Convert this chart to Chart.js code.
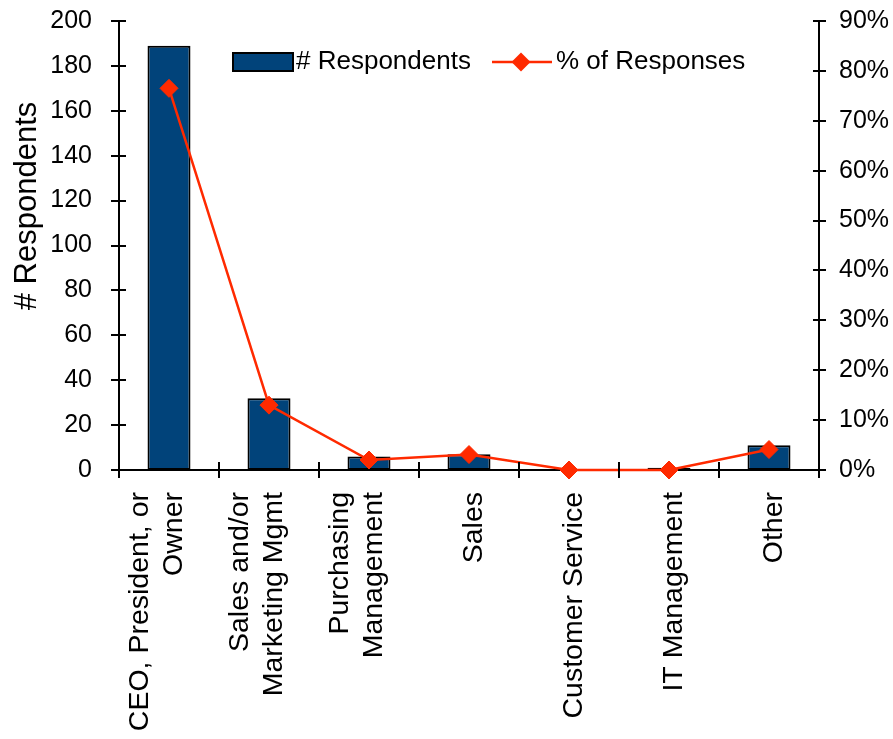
<!DOCTYPE html>
<html>
<head>
<meta charset="utf-8">
<style>
  html, body { margin: 0; padding: 0; background: #ffffff; }
  #wrap { width: 893px; height: 739px; }
</style>
<script src="https://cdn.jsdelivr.net/npm/chart.js@4/dist/chart.umd.min.js"></script>
</head>
<body>
<div id="wrap"><canvas id="chart" width="893" height="739"></canvas></div>
<script>
// Respondent job roles (multi-line labels are split into lines)
const categories = [
  ['CEO, President, or', 'Owner'],
  ['Sales and/or', 'Marketing Mgmt'],
  ['Purchasing', 'Management'],
  'Sales',
  'Customer Service',
  'IT Management',
  'Other'
];
// Number of respondents per role
const respondents = [189, 32, 6, 7, 0, 1, 11];
// Share of responses per role, in percent
const responseShare = [76.5, 13.0, 2.0, 3.1, 0, 0, 4.1];
// Axis tick settings
const countTicks = { min: 0, max: 200, step: 20 };
const shareTicks = { min: 0, max: 90, step: 10 };

const FONT = "'Liberation Sans', Arial, Helvetica, sans-serif";
const BAR_COLOR = '#01437A';
const LINE_COLOR = '#FF2A00';

// Cross-shaped tick marks on all three axes
const crossTicks = {
  id: 'crossTicks',
  afterDraw(chart) {
    const ctx = chart.ctx;
    const { x, y, y1 } = chart.scales;
    ctx.save();
    ctx.strokeStyle = '#000';
    ctx.lineWidth = 2;
    ctx.beginPath();
    for (let v = countTicks.min; v <= countTicks.max; v += countTicks.step) {
      const py = Math.round(y.getPixelForValue(v));
      ctx.moveTo(x.left - 8, py); ctx.lineTo(x.left + 7, py);
    }
    for (let v = shareTicks.min; v <= shareTicks.max; v += shareTicks.step) {
      const py = Math.round(y1.getPixelForValue(v));
      ctx.moveTo(x.right - 6, py); ctx.lineTo(x.right + 7, py);
    }
    const n = categories.length;
    for (let i = 0; i <= n; i++) {
      const px = Math.round(x.left + (x.right - x.left) * i / n);
      ctx.moveTo(px, y.bottom - 8); ctx.lineTo(px, y.bottom + 8);
    }
    ctx.stroke();
    ctx.restore();
  }
};

// Vertical category labels, last line sitting on the category centre
const categoryLabels = {
  id: 'categoryLabels',
  afterDraw(chart) {
    const ctx = chart.ctx;
    const xs = chart.scales.x;
    const lh = 34;
    ctx.save();
    ctx.fillStyle = '#000';
    ctx.font = `28.5px ${FONT}`;
    ctx.textAlign = 'right';
    ctx.textBaseline = 'middle';
    categories.forEach((label, i) => {
      const lines = Array.isArray(label) ? label : [label];
      const px = xs.getPixelForValue(i);
      lines.forEach((line, j) => {
        const cx = px + 5 - (lines.length - 1 - j) * lh;
        ctx.save();
        ctx.translate(cx, xs.top + 22);
        ctx.rotate(-Math.PI / 2);
        ctx.fillText(line, 0, 0);
        ctx.restore();
      });
    });
    ctx.restore();
  }
};

// Left axis title
const countTitle = {
  id: 'countTitle',
  afterDraw(chart) {
    const ctx = chart.ctx;
    ctx.save();
    ctx.fillStyle = '#000';
    ctx.font = `31px ${FONT}`;
    ctx.textAlign = 'center';
    ctx.textBaseline = 'alphabetic';
    ctx.translate(36, 206);
    ctx.rotate(-Math.PI / 2);
    ctx.fillText('# Respondents', 0, 0);
    ctx.restore();
  }
};

// Legend drawn inside the plot area
const innerLegend = {
  id: 'innerLegend',
  afterDraw(chart) {
    const ctx = chart.ctx;
    const ds = chart.data.datasets;
    const cy = 62;
    ctx.save();
    // bar swatch
    ctx.fillStyle = ds[0].backgroundColor;
    ctx.fillRect(233, 53, 60, 18);
    ctx.strokeStyle = '#000';
    ctx.lineWidth = 2;
    ctx.strokeRect(233, 53, 60, 18);
    ctx.fillStyle = '#000';
    ctx.font = `26px ${FONT}`;
    ctx.textAlign = 'left';
    ctx.textBaseline = 'middle';
    ctx.fillText(ds[0].label, 296, cy);
    // line swatch with diamond marker
    ctx.strokeStyle = ds[1].borderColor;
    ctx.lineWidth = 2.5;
    ctx.beginPath();
    ctx.moveTo(492, cy); ctx.lineTo(552, cy);
    ctx.stroke();
    const r = 9.5, mx = 521;
    ctx.fillStyle = ds[1].pointBackgroundColor;
    ctx.beginPath();
    ctx.moveTo(mx, cy - r); ctx.lineTo(mx + r, cy); ctx.lineTo(mx, cy + r); ctx.lineTo(mx - r, cy);
    ctx.closePath();
    ctx.fill();
    ctx.fillStyle = '#000';
    ctx.fillText(ds[1].label, 556, cy);
    ctx.restore();
  }
};

// Fixed axis box sizes; tick-label overhang is not reserved
function fixVertical(width) {
  return (scale) => {
    scale.width = width;
    scale.paddingTop = 0;
    scale.paddingBottom = 0;
  };
}

new Chart(document.getElementById('chart'), {
  type: 'bar',
  data: {
    labels: categories,
    datasets: [
      {
        type: 'bar',
        label: '# Respondents',
        data: respondents,
        yAxisID: 'y',
        backgroundColor: BAR_COLOR,
        borderColor: '#000',
        borderWidth: 2,
        borderSkipped: false,
        barPercentage: 0.43,
        categoryPercentage: 1,
        order: 2
      },
      {
        type: 'line',
        label: '% of Responses',
        data: responseShare,
        yAxisID: 'y1',
        borderColor: LINE_COLOR,
        borderWidth: 2.5,
        backgroundColor: LINE_COLOR,
        pointBackgroundColor: LINE_COLOR,
        pointBorderColor: LINE_COLOR,
        pointBorderWidth: 1,
        pointStyle: 'rectRot',
        pointRadius: 9,
        tension: 0,
        clip: false,
        order: 1
      }
    ]
  },
  options: {
    responsive: false,
    animation: false,
    devicePixelRatio: 1,
    layout: { padding: { top: 21, left: 0, right: 0, bottom: 0 } },
    plugins: {
      legend: { display: false },
      tooltip: { enabled: false },
      title: { display: false }
    },
    scales: {
      x: {
        offset: true,
        grid: { display: false, drawTicks: false },
        border: { display: true, color: '#000', width: 2 },
        ticks: { display: false },
        afterFit(scale) {
          scale.height = 269;
          scale.paddingLeft = 0;
          scale.paddingRight = 0;
        }
      },
      y: {
        position: 'left',
        min: countTicks.min,
        max: countTicks.max,
        grid: { display: false, drawTicks: false },
        border: { display: true, color: '#000', width: 2 },
        ticks: {
          stepSize: countTicks.step,
          padding: 27,
          color: '#000',
          font: { family: FONT, size: 25 }
        },
        afterFit: fixVertical(119)
      },
      y1: {
        position: 'right',
        min: shareTicks.min,
        max: shareTicks.max,
        grid: { display: false, drawTicks: false },
        border: { display: true, color: '#000', width: 2 },
        ticks: {
          stepSize: shareTicks.step,
          padding: 20,
          color: '#000',
          font: { family: FONT, size: 25 },
          callback: (v) => v + '%'
        },
        afterFit: fixVertical(74)
      }
    }
  },
  plugins: [crossTicks, categoryLabels, countTitle, innerLegend]
});
</script>
</body>
</html>
